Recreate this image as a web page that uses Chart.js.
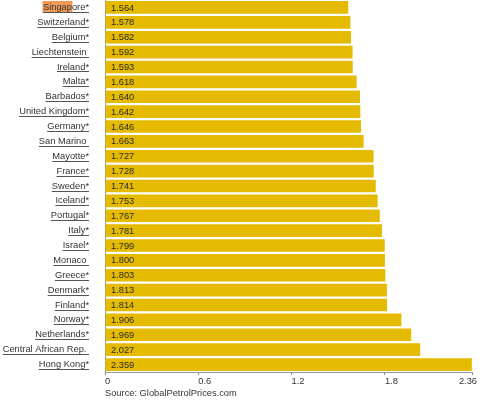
<!DOCTYPE html>
<html>
<head>
<meta charset="utf-8">
<script src="https://cdn.jsdelivr.net/npm/chart.js@4/dist/chart.umd.min.js"></script>
<style>
html,body{margin:0;padding:0;background:#fff;}
#wrap{width:500px;height:401px;position:relative;}
</style>
</head>
<body>
<div id="wrap"><canvas id="c" width="500" height="401"></canvas></div>
<script>
const countries = ["Singapore*","Switzerland*","Belgium*","Liechtenstein ","Ireland*","Malta*","Barbados*","United Kingdom*","Germany*","San Marino ","Mayotte*","France*","Sweden*","Iceland*","Portugal*","Italy*","Israel*","Monaco ","Greece*","Denmark*","Finland*","Norway*","Netherlands*","Central African Rep. ","Hong Kong*"];
const prices = [1.564,1.578,1.582,1.592,1.593,1.618,1.640,1.642,1.646,1.663,1.727,1.728,1.741,1.753,1.767,1.781,1.799,1.800,1.803,1.813,1.814,1.906,1.969,2.027,2.359];
const xTicks = [0,0.6,1.2,1.8,2.36];
const xMax = 2.36;
const sourceText = "Source: GlobalPetrolPrices.com";

const FONT = "Liberation Sans, Arial, sans-serif";
const FS = 9.3;
const LABEL_PAD = 16;

const decor = {
  id: 'decor',
  beforeDraw(chart) {
    const ctx = chart.ctx, y = chart.scales.y, left = chart.chartArea.left;
    ctx.save();
    ctx.font = FS + "px " + FONT;
    const full = ctx.measureText(countries[0]).width;
    const part = ctx.measureText("Singap").width;
    const x0 = left - LABEL_PAD - full;
    const py = y.getPixelForValue(0);
    ctx.fillStyle = '#F09A58';
    ctx.fillRect(x0 - 0.5, Math.max(0, py - 6.5), part + 1, 12);
    ctx.restore();
  },
  afterDraw(chart) {
    const ctx = chart.ctx, y = chart.scales.y, x = chart.scales.x, area = chart.chartArea;
    ctx.save();
    ctx.font = FS + "px " + FONT;
    ctx.strokeStyle = '#555';
    ctx.lineWidth = 1;
    countries.forEach((c, i) => {
      const w = ctx.measureText(c).width;
      const r = area.left - LABEL_PAD;
      const py = Math.round(y.getPixelForValue(i) + 4.5) + 0.5;
      ctx.beginPath();
      ctx.moveTo(r - w, py);
      ctx.lineTo(r, py);
      ctx.stroke();
    });
    ctx.fillStyle = '#2a2a2a';
    ctx.textBaseline = 'middle';
    ctx.textAlign = 'left';
    prices.forEach((v, i) => {
      ctx.fillText(v.toFixed(3), x.getPixelForValue(0) + 6, y.getPixelForValue(i) + 0.5);
    });
    // last x tick label, right-aligned to its tick as in the reference
    ctx.fillStyle = '#333';
    ctx.textBaseline = 'middle';
    ctx.textAlign = 'right';
    const lastV = xTicks[xTicks.length - 1];
    ctx.fillText(String(lastV), x.getPixelForValue(lastV) + 5, area.bottom + 9);
    // source
    ctx.textAlign = 'left';
    ctx.textBaseline = 'middle';
    ctx.fillText(sourceText, area.left, 393);
    ctx.restore();
  }
};

new Chart(document.getElementById('c'), {
  type: 'bar',
  data: {
    labels: countries,
    datasets: [{
      data: prices,
      backgroundColor: '#E4BB00',
      borderWidth: 0,
      barPercentage: 0.85,
      categoryPercentage: 1.0
    }]
  },
  options: {
    indexAxis: 'y',
    responsive: false,
    animation: false,
    devicePixelRatio: 1,
    layout: { autoPadding: false, padding: { top: 0, right: 28, bottom: 0, left: 0 } },
    plugins: { legend: { display: false }, tooltip: { enabled: false }, title: { display: false } },
    scales: {
      x: {
        min: 0, max: xMax,
        afterBuildTicks(scale) { scale.ticks = xTicks.map(v => ({ value: v })); },
        afterFit(scale) { scale.height = 29; scale.paddingLeft = 0; scale.paddingRight = 0; },
        grid: { display: true, drawOnChartArea: false, drawTicks: true, tickLength: 3, color: '#888' },
        border: { display: true, color: '#999' },
        ticks: {
          align: 'start',
          padding: 1,
          color: '#333',
          font: { family: FONT, size: FS },
          maxRotation: 0,
          autoSkip: false,
          callback: (v) => (v === xMax ? '' : String(v))
        }
      },
      y: {
        afterFit(scale) { scale.width = 105; scale.paddingTop = 0; scale.paddingBottom = 0; },
        grid: { display: false, drawTicks: false },
        border: { display: true, color: '#999' },
        ticks: {
          padding: LABEL_PAD,
          color: '#333',
          font: { family: FONT, size: FS },
          autoSkip: false
        }
      }
    }
  },
  plugins: [decor]
});
</script>
</body>
</html>
